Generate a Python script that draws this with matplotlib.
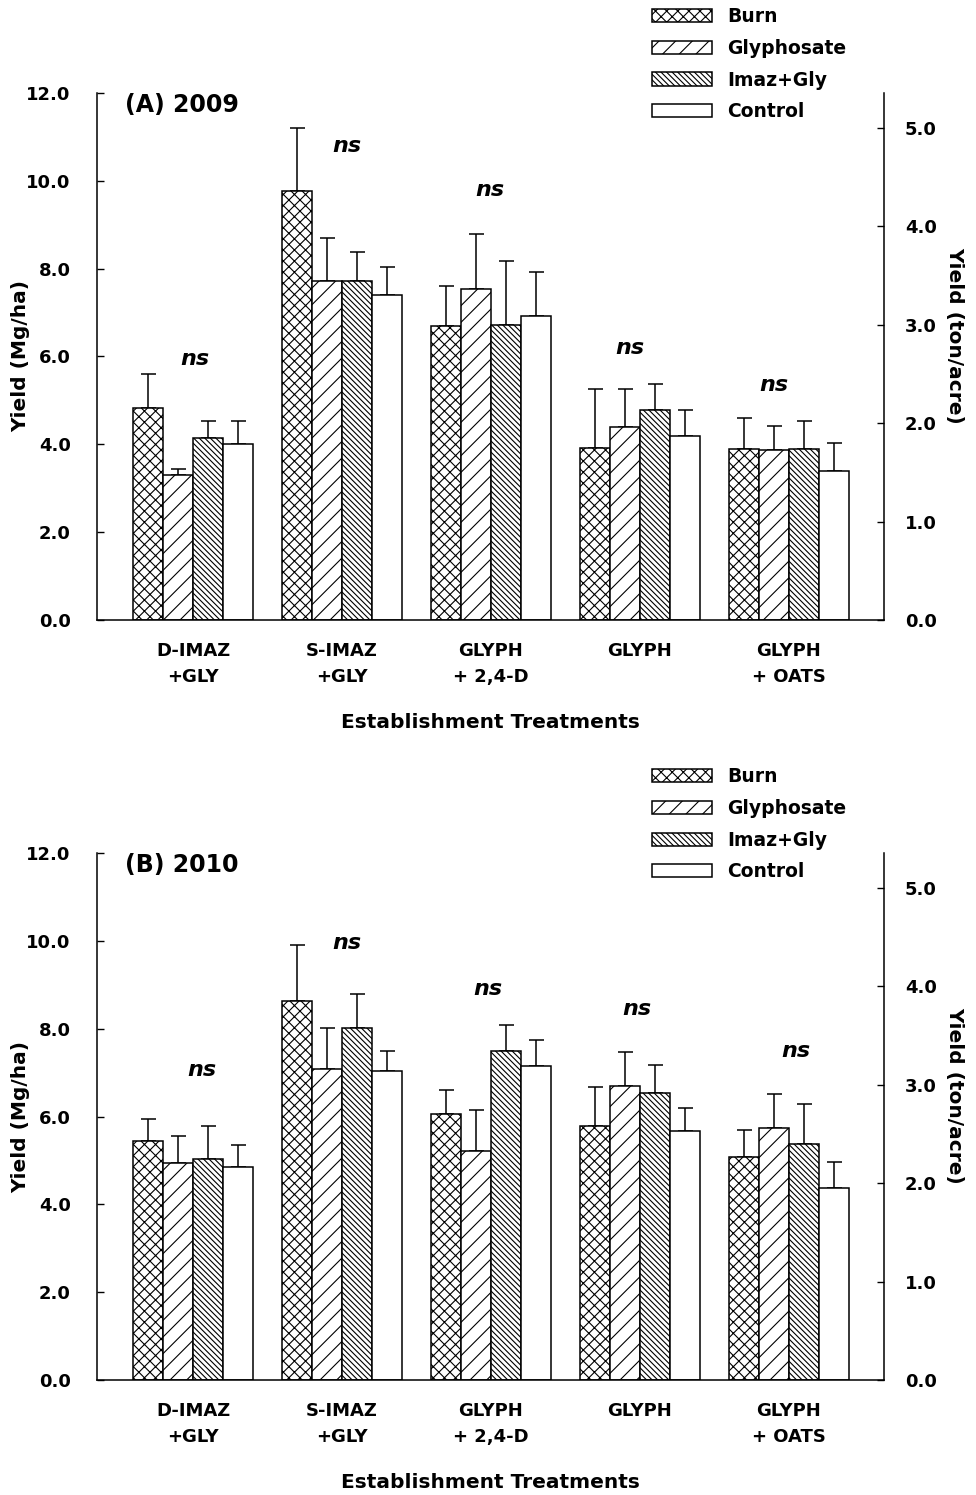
import numpy as np
import matplotlib
matplotlib.use("Agg")
import matplotlib.pyplot as plt

# ------------------------------------------------------------------
# data (yield in Mg/ha, mean and upper SE bar)
# ------------------------------------------------------------------
treatments = ["D-IMAZ\n+GLY", "S-IMAZ\n+GLY", "GLYPH\n+ 2,4-D", "GLYPH", "GLYPH\n+ OATS"]
series = ["Burn", "Glyphosate", "Imaz+Gly", "Control"]

# (A) 2009
burn_2009 = [4.83, 9.77, 6.70, 3.91, 3.89]
burn_2009_se = [0.78, 1.44, 0.91, 1.34, 0.70]
gly_2009 = [3.29, 7.72, 7.53, 4.39, 3.86]
gly_2009_se = [0.15, 0.98, 1.27, 0.87, 0.55]
imaz_2009 = [4.15, 7.72, 6.72, 4.77, 3.89]
imaz_2009_se = [0.39, 0.65, 1.45, 0.61, 0.65]
control_2009 = [4.00, 7.41, 6.93, 4.20, 3.40]
control_2009_se = [0.54, 0.62, 1.00, 0.57, 0.63]

# (B) 2010
burn_2010 = [5.44, 8.63, 6.06, 5.79, 5.08]
burn_2010_se = [0.50, 1.28, 0.54, 0.89, 0.62]
gly_2010 = [4.95, 7.09, 5.21, 6.69, 5.75]
gly_2010_se = [0.60, 0.92, 0.94, 0.79, 0.76]
imaz_2010 = [5.04, 8.01, 7.49, 6.53, 5.38]
imaz_2010_se = [0.74, 0.78, 0.59, 0.65, 0.91]
control_2010 = [4.85, 7.03, 7.16, 5.67, 4.38]
control_2010_se = [0.50, 0.47, 0.58, 0.53, 0.58]

# "ns" labels (height in Mg/ha)
ns_2009 = [5.95, 10.8, 9.8, 6.2, 5.35]
ns_2010 = [7.05, 9.95, 8.9, 8.45, 7.5]

MG_PER_TON_ACRE = 2.2417

plt.rcParams['font.family'] = ['DejaVu Sans']
plt.rcParams['font.weight'] = 'bold'
plt.rcParams['hatch.linewidth'] = 0.8

HATCHES = ['xxx', '//', '\\\\\\\\\\\\', '']


def draw_panel(ax, title, means, errs, ns_y, ns_dx):
    """one bar panel with a second (ton/acre) axis on the right"""
    x = np.arange(len(treatments))
    width = 0.2
    handles = []
    for j, (vals, se) in enumerate(zip(means, errs)):
        pos = x + (j - 1.5) * width
        b = ax.bar(pos, vals, width, facecolor='white', edgecolor='black',
                   hatch=HATCHES[j], linewidth=1.1, label=series[j], zorder=2)
        ax.errorbar(pos, vals, yerr=[np.zeros(len(se)), se], fmt='none',
                    ecolor='black', elinewidth=1.1, capsize=5.4, capthick=1.1, zorder=1)
        handles.append(b)

    for i, y in enumerate(ns_y):
        ax.text(i + ns_dx[i], y, 'ns', style='italic', fontweight='bold',
                fontsize=16, ha='center', va='center')

    ax.set_xlim(-0.644, 4.638)
    ax.set_ylim(0, 12)
    ax.set_yticks(np.arange(0, 12.1, 2))
    ax.set_yticklabels([f'{v:.1f}' for v in np.arange(0, 12.1, 2)])
    ax.set_xticks(x)
    ax.set_xticklabels(treatments, linespacing=1.55)
    ax.tick_params(axis='x', length=0, pad=16, labelsize=13)
    ax.tick_params(axis='y', direction='in', length=5, width=1, pad=19, labelsize=13)
    ax.spines['top'].set_visible(False)
    ax.spines['right'].set_visible(False)
    for s in ('left', 'bottom'):
        ax.spines[s].set_linewidth(1.1)

    ax.set_ylabel('Yield (Mg/ha)', fontsize=14.5, fontweight='bold')
    ax.yaxis.set_label_coords(-0.085, 0.5)
    ax.set_xlabel('Establishment Treatments', fontsize=14.5, fontweight='bold')
    ax.xaxis.set_label_coords(0.5, -0.176)

    ax.text(0.036, 0.977, title, transform=ax.transAxes, fontsize=17,
            fontweight='bold', ha='left', va='center')

    # right axis in ton/acre
    ax2 = ax.twinx()
    ax2.set_ylim(0, 12 / MG_PER_TON_ACRE)
    ax2.set_yticks(np.arange(0, 6))
    ax2.set_yticklabels([f'{v:.1f}' for v in np.arange(0, 6)])
    ax2.tick_params(axis='y', direction='in', length=5, width=1, pad=15, labelsize=13)
    ax2.spines['top'].set_visible(False)
    ax2.spines['left'].set_visible(False)
    ax2.spines['bottom'].set_visible(False)
    ax2.spines['right'].set_linewidth(1.1)
    ax2.set_ylabel('Yield (ton/acre)', fontsize=14.5, fontweight='bold', rotation=270)
    ax2.yaxis.set_label_coords(1.102, 0.54)

    ax.legend(handles=handles, loc='upper left', bbox_to_anchor=(0.705, 1.163),
              frameon=False, fontsize=13.5, handlelength=3.2, handleheight=0.7,
              labelspacing=0.68, handletextpad=0.8, borderpad=0, borderaxespad=0)


def main():
    fig = plt.figure(figsize=(9.76, 14.95), dpi=100)
    ax_a = fig.add_axes([0.0994, 0.5853, 0.8063, 0.3525])
    ax_b = fig.add_axes([0.0994, 0.0769, 0.8063, 0.3525])

    draw_panel(ax_a, '(A) 2009',
               [burn_2009, gly_2009, imaz_2009, control_2009],
               [burn_2009_se, gly_2009_se, imaz_2009_se, control_2009_se],
               ns_2009, [0.01, 0.03, -0.01, -0.07, -0.10])
    draw_panel(ax_b, '(B) 2010',
               [burn_2010, gly_2010, imaz_2010, control_2010],
               [burn_2010_se, gly_2010_se, imaz_2010_se, control_2010_se],
               ns_2010, [0.06, 0.03, -0.02, -0.02, 0.05])

    fig.savefig('out.png', dpi=100)


if __name__ == "__main__":
    main()
